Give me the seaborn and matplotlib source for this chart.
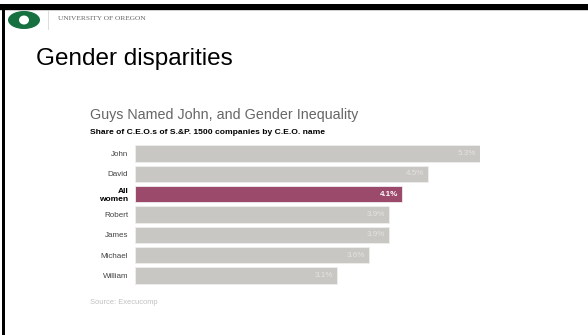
import numpy as np
import pandas as pd
import matplotlib
matplotlib.use("Agg")
import matplotlib.pyplot as plt
from matplotlib.patches import Rectangle, Ellipse
import seaborn as sns

# data
names = ["John", "David", "All\nwomen", "Robert", "James", "Michael", "William"]
shares = [5.3, 4.5, 4.1, 3.9, 3.9, 3.6, 3.1]
bar_colors = ["#c9c7c3", "#c9c7c3", "#9c4a6c", "#c9c7c3", "#c9c7c3", "#c9c7c3", "#c9c7c3"]

df = pd.DataFrame({"name": names, "share": shares})

sns.set_theme(style="white")
plt.rcParams["font.family"] = ["Liberation Sans", "DejaVu Sans"]

W, H = 588, 335
fig = plt.figure(figsize=(W / 100, H / 100), dpi=100)
fig.patch.set_facecolor("white")

def fx(px):
    return px / W

def fy(py):
    return 1 - py / H

# slide frame
fig.add_artist(Rectangle((0, fy(9.5)), 1, 5.5 / H, transform=fig.transFigure,
                         color="black", lw=0))
fig.add_artist(Rectangle((0, fy(11)), 1, 1.2 / H, transform=fig.transFigure,
                         color="#cfcfcf", lw=0))
fig.add_artist(Rectangle((fx(2), 0), 3.2 / W, fy(4), transform=fig.transFigure,
                         color="black", lw=0))
# logo
fig.add_artist(Ellipse((fx(24), fy(20)), 32 / W, 18 / H, transform=fig.transFigure,
                       color="#16703f", lw=0))
fig.add_artist(Ellipse((fx(24), fy(20)), 10 / W, 9 / H, transform=fig.transFigure,
                       color="white", lw=0))
fig.add_artist(Rectangle((fx(48), fy(30)), 0.8 / W, 19 / H, transform=fig.transFigure,
                         color="#dddddd", lw=0))
fig.text(fx(58), fy(18), "UNIVERSITY OF OREGON", fontsize=5.3, color="#666666",
         family=["Liberation Serif", "DejaVu Serif"], va="center", ha="left")

fig.text(fx(36), fy(59), "Gender disparities", fontsize=17.5, color="black",
         va="center", ha="left")

fig.text(fx(90), fy(115), "Guys Named John, and Gender Inequality", fontsize=10.3,
         color="#666666", va="center", ha="left")
fig.text(fx(90), fy(132), "Share of C.E.O.s of S.&P. 1500 companies by C.E.O. name",
         fontsize=6.1, color="black", fontweight="bold", va="center", ha="left")
fig.text(fx(90), fy(303), "Source: Execucomp", fontsize=5.4, color="#c0c0c0",
         va="center", ha="left")

# bar chart
ax = fig.add_axes([fx(135), fy(285.7), 345 / W, 142.4 / H])
sns.barplot(data=df, x="share", y="name", hue="name", palette=bar_colors,
            legend=False, width=0.79, saturation=1, edgecolor="#eeeeee",
            linewidth=0.6, ax=ax)
ax.set_xlim(0, 5.3)
ax.set_ylim(6.5, -0.5)
ax.set_xlabel("")
ax.set_ylabel("")
ax.set_xticks([])
sns.despine(ax=ax, left=True, bottom=True)
ax.tick_params(axis="y", length=0, pad=5)
for lab in ax.get_yticklabels():
    lab.set_fontsize(5.8)
    lab.set_color("#444444")
    if "women" in lab.get_text():
        lab.set_fontweight("bold")
        lab.set_color("black")
        lab.set_fontsize(6)
        lab.set_linespacing(1.25)

for i, v in enumerate(shares):
    if "women" in names[i]:
        ax.text(v - 0.06, i, f"{v}%", ha="right", va="center", fontsize=5.8,
                color="white", fontweight="bold")
    else:
        ax.text(v - 0.06, i, f"{v}%", ha="right", va="center", fontsize=5.8,
                color="#e4e3e0")

fig.savefig("out.png", dpi=100, facecolor="white")
